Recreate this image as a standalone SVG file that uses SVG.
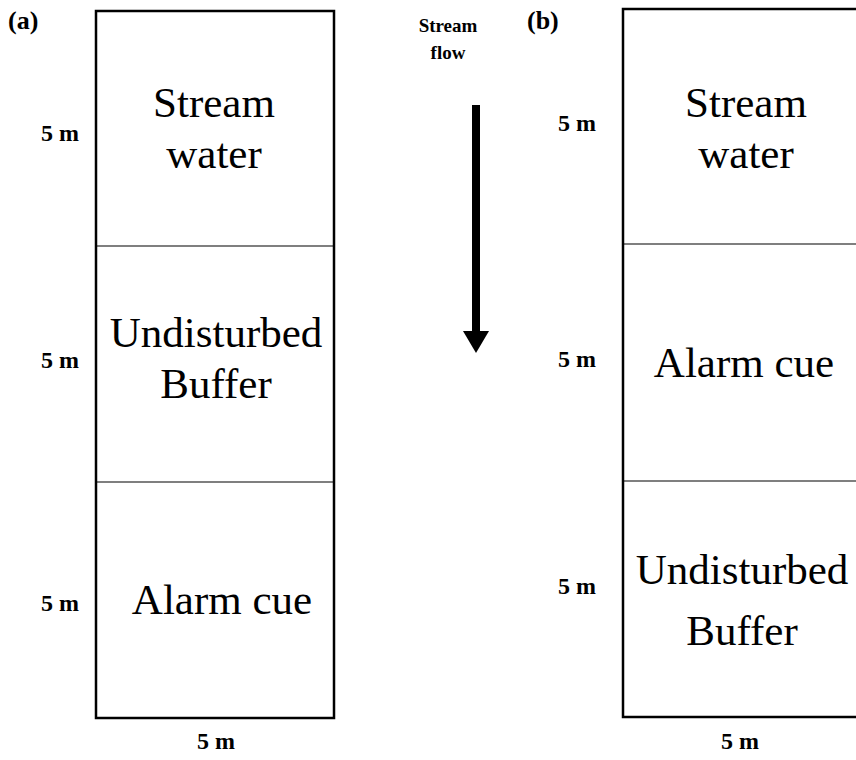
<svg xmlns="http://www.w3.org/2000/svg" width="856" height="760" viewBox="0 0 856 760">
<style>
text{font-family:'Liberation Serif','Times New Roman',Times,serif;fill:#000}
.box{fill:none;stroke:#000;stroke-width:2.5}
.div{stroke:#000;stroke-width:1.2}
.zone{font-size:43px;text-anchor:middle}
.dim{font-size:24px;font-weight:bold;text-anchor:middle}
.lab{font-size:26px;font-weight:bold}
.flow{font-size:19px;font-weight:bold;text-anchor:middle}
</style>
<rect width="856" height="760" fill="#fff"/>
<g id="panel-a">
<text class="lab" x="8" y="29">(a)</text>
<rect class="box" x="96" y="11" width="238" height="707"/>
<line class="div" x1="96" y1="246" x2="334" y2="246"/>
<line class="div" x1="96" y1="482" x2="334" y2="482"/>
<g id="a-stream"><text class="zone" x="214" y="117">Stream</text><text class="zone" x="214" y="168">water</text></g>
<g id="a-buffer"><text class="zone" x="216" y="347">Undisturbed</text><text class="zone" x="216" y="398">Buffer</text></g>
<g id="a-alarm"><text class="zone" x="222" y="614">Alarm cue</text></g>
<text class="dim" x="60" y="141">5 m</text>
<text class="dim" x="60" y="368">5 m</text>
<text class="dim" x="60" y="611">5 m</text>
<text class="dim" x="216" y="749">5 m</text>
</g>
<g id="flow">
<text class="flow" x="448" y="32">Stream</text>
<text class="flow" x="448" y="59">flow</text>
</g>
<g id="connectors">
<rect x="472" y="105" width="8" height="228" fill="#000"/>
<polygon points="463,331 489,331 476,353" fill="#000"/>
</g>
<g id="panel-b">
<text class="lab" x="527" y="29">(b)</text>
<rect class="box" x="623" y="9" width="238" height="708"/>
<line class="div" x1="623" y1="244" x2="861" y2="244"/>
<line class="div" x1="623" y1="481" x2="861" y2="481"/>
<g id="b-stream"><text class="zone" x="746" y="117">Stream</text><text class="zone" x="746" y="168">water</text></g>
<g id="b-alarm"><text class="zone" x="744" y="377">Alarm cue</text></g>
<g id="b-buffer"><text class="zone" x="742" y="584">Undisturbed</text><text class="zone" x="742" y="645">Buffer</text></g>
<text class="dim" x="577" y="131">5 m</text>
<text class="dim" x="577" y="367">5 m</text>
<text class="dim" x="577" y="594">5 m</text>
<text class="dim" x="740" y="749">5 m</text>
</g>
</svg>
